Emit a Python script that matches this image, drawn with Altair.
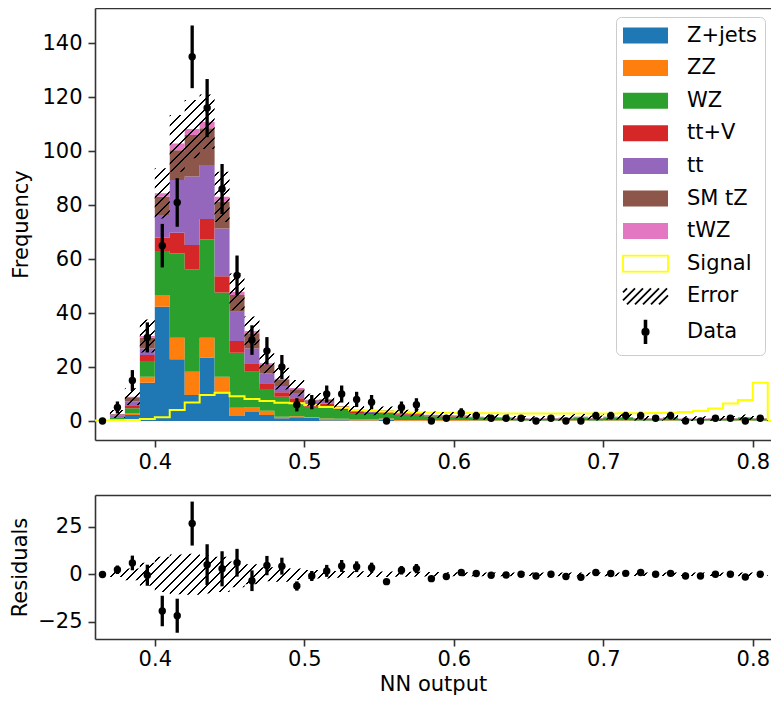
import altair as alt
import numpy as np
import pandas as pd

# ---------------- data ----------------
bin_lo = [round(0.36 + 0.01 * i, 2) for i in range(46)]
bin_width = 0.01

series_names = ["Z+jets", "ZZ", "WZ", "tt+V", "tt", "SM tZ", "tWZ"]
series_colors = ["#1f77b4", "#ff7f0e", "#2ca02c", "#d62728", "#9467bd", "#8c564b", "#e377c2"]

zjets = [0.05, 0.4, 2.2, 14.2, 42.4, 22.9, 9.6, 23.5, 10.3, 1.9, 3.3, 2.2, 1.0,
         1.4, 1.2, 0.3, 0.3, 0.2, 0.2, 0.6, 0.1, 0.1, 0.1, 0.1, 0.1, 0.05, 0.1, 0.05, 0.05, 0.05,
         0.05, 0.1, 0.1, 0.05, 0.1, 0.1, 0.05, 0.05, 0.1, 0.05, 0.05, 0.05, 0.05, 0.05, 0.05, 0.0]
zz = [0.0, 0.1, 0.6, 2.2, 4.3, 8.0, 8.7, 7.4, 6.1, 3.0, 1.9, 1.6, 0.6,
      0.4, 0.3, 0.6, 0.5, 0.5, 0.4, 0.3, 0.3, 0.3, 0.3, 0.25, 0.25, 0.2, 0.2, 0.2, 0.12, 0.1,
      0.12, 0.15, 0.2, 0.15, 0.2, 0.2, 0.15, 0.12, 0.2, 0.1, 0.1, 0.12, 0.12, 0.2, 0.12, 0.0]
wz = [0.05, 0.8, 1.9, 5.8, 16.3, 31.2, 38.0, 36.4, 31.2, 20.4, 13.1, 8.1, 7.4,
      5.0, 3.8, 4.6, 3.3, 2.3, 2.0, 2.2, 1.8, 1.9, 1.4, 1.35, 1.3, 1.0, 0.9, 0.85, 0.6, 0.55,
      0.6, 0.7, 1.0, 0.65, 1.0, 0.9, 0.65, 0.6, 0.9, 0.55, 0.55, 0.6, 0.6, 0.85, 0.6, 0.0]
ttv = [0.0, 0.2, 0.9, 2.3, 5.0, 7.7, 8.9, 7.6, 6.1, 4.4, 3.1, 2.1, 1.7,
       1.6, 0.9, 1.0, 0.6, 0.4, 0.4, 0.3, 0.3, 0.3, 0.2, 0.2, 0.2, 0.15, 0.12, 0.12, 0.1, 0.08,
       0.1, 0.1, 0.12, 0.1, 0.12, 0.12, 0.1, 0.1, 0.12, 0.08, 0.08, 0.1, 0.1, 0.12, 0.1, 0.0]
tt = [0.0, 0.5, 1.6, 2.4, 8.4, 19.5, 25.4, 20.0, 17.7, 10.8, 5.5, 3.7, 2.3,
      2.0, 0.9, 0.9, 0.5, 0.3, 0.3, 0.3, 0.2, 0.2, 0.15, 0.15, 0.12, 0.1, 0.1, 0.1, 0.07, 0.06,
      0.07, 0.08, 0.1, 0.08, 0.1, 0.1, 0.08, 0.07, 0.1, 0.06, 0.06, 0.07, 0.07, 0.1, 0.07, 0.0]
smtz = [0.0, 0.5, 1.6, 4.0, 6.7, 11.1, 15.4, 13.6, 9.9, 6.2, 5.6, 3.1, 2.2,
        1.4, 0.6, 0.6, 0.3, 0.2, 0.15, 0.15, 0.15, 0.15, 0.1, 0.1, 0.1, 0.07, 0.05, 0.05, 0.04, 0.04,
        0.04, 0.05, 0.05, 0.05, 0.05, 0.05, 0.05, 0.04, 0.05, 0.04, 0.04, 0.04, 0.04, 0.05, 0.04, 0.0]
twz = [0.0, 0.1, 0.2, 0.6, 1.3, 2.5, 2.2, 2.4, 1.8, 1.2, 0.9, 0.6, 0.5,
       0.4, 0.2, 0.2, 0.1, 0.1, 0.05, 0.05, 0.05, 0.05, 0.05, 0.05, 0.03, 0.03, 0.03, 0.03, 0.02, 0.02,
       0.02, 0.02, 0.03, 0.02, 0.03, 0.03, 0.02, 0.02, 0.03, 0.02, 0.02, 0.02, 0.02, 0.03, 0.02, 0.0]

signal = [0.2, 0.3, 0.4, 0.7, 1.4, 4.1, 6.9, 9.6, 10.5, 9.2, 8.2, 7.4, 6.8,
          6.6, 5.9, 5.2, 4.9, 4.1, 3.9, 3.5, 3.4, 3.2, 3.1, 3.1, 3.0, 2.9, 2.9, 2.8, 2.8, 2.8,
          2.8, 2.8, 2.8, 2.8, 2.8, 2.9, 2.9, 3.0, 3.1, 3.3, 3.7, 4.6, 6.5, 7.8, 14.2, 0.0]

data_counts = [0, 5, 15, 31, 65, 81, 135, 116, 86, 54, 30, 26, 20,
               6, 7, 10, 10, 8, 7, 0, 5, 6, 0, 1, 3, 2, 1, 1, 1, 0,
               1, 0, 0, 2, 2, 2, 2, 1, 2, 0, 0, 1, 1, 0, 1, 0]

mc_err = [0.3, 1.5, 3.1, 6.1, 9.3, 10.5, 10.8, 10.1, 9.3, 6.8, 5.3, 3.7, 4.0,
          3.0, 2.2, 2.2, 1.8, 1.6, 1.4, 1.5, 1.3, 1.3, 1.2, 1.1, 1.1, 1.0, 1.0, 1.0, 0.9, 0.9,
          0.9, 1.0, 1.0, 0.9, 1.0, 1.0, 0.9, 0.9, 1.0, 0.9, 0.9, 0.9, 0.9, 1.0, 0.9, 0.0]

x_ticks = [0.4, 0.5, 0.6, 0.7, 0.8]
y_ticks_top = [0, 20, 40, 60, 80, 100, 120, 140]
y_ticks_res = [-25, 0, 25]

legend_entries = series_names + ["Signal", "Error", "Data"]

# ---------------- layout constants ----------------
FONT = "DejaVu Sans"
FS = 21
W = 676
X_DOM = [0.36, 0.36 + W / 1495.0]
H = 631                      # whole plotting group (both panels)
TOP_DOM = [-7.04, 153.1]
TOP_RANGE = [432, 0]         # pixel rows of the upper panel
RES_DOM = [-34.2, 41.9]
RES_RANGE = [631, 487]       # pixel rows of the residual panel
AX_COLOR = "#333333"

NB = len(bin_lo)

# ---------------- tables ----------------
comps = [zjets, zz, wz, ttv, tt, smtz, twz]
rows = []
cum = np.zeros(NB)
for name, vals in zip(series_names, comps):
    v = np.array(vals, dtype=float)
    for i in range(NB):
        rows.append(dict(series=name, x=bin_lo[i], y0=cum[i], y1=cum[i] + v[i]))
    rows.append(dict(series=name, x=round(bin_lo[-1] + bin_width, 2), y0=cum[-1], y1=cum[-1] + v[-1]))
    cum = cum + v
stack_df = pd.DataFrame(rows)
total = cum

sig_df = pd.DataFrame({"x": bin_lo + [round(bin_lo[-1] + bin_width, 2)],
                       "s": signal + [signal[-1]]})

err = np.array(mc_err)
NH = NB - 1  # hatched bins (last bin empty)
hx = bin_lo[:NH] + [round(bin_lo[NH - 1] + bin_width, 2)]
hup = list(total[:NH] + err[:NH]) + [total[NH - 1] + err[NH - 1]]
hlo = list(total[:NH] - err[:NH]) + [total[NH - 1] - err[NH - 1]]
hatch_df = pd.DataFrame({"x": hx, "up": hup, "lo": hlo})
rup = list(err[:NH]) + [err[NH - 1]]
res_hatch_df = pd.DataFrame({"x": hx, "up": rup, "lo": [-e for e in rup]})

cnt = np.array(data_counts, dtype=float)
centers = [round(b + bin_width / 2, 3) for b in bin_lo]
data_df = pd.DataFrame({"xc": centers, "n": cnt,
                        "lo": cnt - np.sqrt(cnt), "hi": cnt + np.sqrt(cnt)})
resid = cnt - total
res_df = pd.DataFrame({"xc": centers, "r": resid,
                       "lo": resid - np.sqrt(cnt), "hi": resid + np.sqrt(cnt)})


# ---------------- hatch gradient (style only) ----------------
def x_px(v):
    return (v - X_DOM[0]) / (X_DOM[1] - X_DOM[0]) * W


def y_px(v, dom, rng):
    return rng[0] + (v - dom[0]) / (dom[1] - dom[0]) * (rng[1] - rng[0])


def hatch_gradient(bw, bh, spacing=9.5, lw=1.5, s=1.25):
    D = s * (bw * bw + bh * bh) / bw
    stops = []
    k = 0
    while True:
        a = k * spacing / D
        b = (k * spacing + lw * np.sqrt(2)) / D
        if a >= 1:
            break
        b = min(b, 1.0)
        stops += [alt.GradientStop(offset=a, color="rgba(0,0,0,0)"),
                  alt.GradientStop(offset=a, color="black"),
                  alt.GradientStop(offset=b, color="black"),
                  alt.GradientStop(offset=b, color="rgba(0,0,0,0)")]
        k += 1
    return alt.LinearGradient(gradient="linear", stops=stops, x1=0, y1=0, x2=s, y2=s * bh / bw)


bw_px = x_px(hx[-1]) - x_px(hx[0])
top_bh = y_px(min(hlo), TOP_DOM, TOP_RANGE) - y_px(max(hup), TOP_DOM, TOP_RANGE)
res_bh = y_px(-max(rup), RES_DOM, RES_RANGE) - y_px(max(rup), RES_DOM, RES_RANGE)
top_grad = hatch_gradient(bw_px, top_bh)
res_grad = hatch_gradient(bw_px, res_bh)


# ---------------- legend symbols ----------------
SYM_SCALE = 8.0  # px per unit for symbolSize 256
SW, SH = 45.0, 16.0


def u(px, py):
    return f"{(px - SW / 2) / SYM_SCALE:.3f},{(py - SH / 2) / SYM_SCALE:.3f}"


rect_path = f"M{u(0, 0)}L{u(SW, 0)}L{u(SW, SH)}L{u(0, SH)}Z"
segs = []
kk = 4.0
while kk < SW + SH:
    py_a = min(SH, kk)
    py_b = max(0.0, kk - SW)
    if py_a - py_b > 1.0:
        segs.append(f"M{u(kk - py_a, py_a)}L{u(kk - py_b, py_b)}")
    kk += 8.0
hatch_path = "".join(segs)
data_path = ("M-0.11,-1.4L0.11,-1.4L0.11,1.4L-0.11,1.4Z"
             "M-0.4,0A0.4,0.4,0,1,1,0.4,0A0.4,0.4,0,1,1,-0.4,0Z")

fill_scale = alt.Scale(domain=legend_entries,
                       range=series_colors + ["transparent", "transparent", "black"])
stroke_scale = alt.Scale(domain=legend_entries,
                         range=["transparent"] * 7 + ["#ffff00", "black", "black"])
shape_scale = alt.Scale(domain=legend_entries, range=[rect_path] * 8 + [hatch_path, data_path])

leg = alt.Legend(title=None, orient="none", legendX=521, legendY=9,
                 labelFont=FONT, labelFontSize=FS, labelColor="black",
                 symbolSize=256, symbolOffset=11, labelOffset=31, rowPadding=7.6,
                 columnPadding=0, padding=8, fillColor="rgba(255,255,255,0.8)",
                 strokeColor="#cccccc", cornerRadius=5, symbolFillColor="black",
                 symbolStrokeColor="black", symbolOpacity=1, symbolStrokeWidth=1.8)

xs = alt.Scale(domain=X_DOM, nice=False, zero=False)
ys_top = alt.Scale(domain=TOP_DOM, range=TOP_RANGE, nice=False, zero=False)
ys_res = alt.Scale(domain=RES_DOM, range=RES_RANGE, nice=False, zero=False)

# axes
top_x_axis = alt.Axis(orient="bottom", offset=TOP_RANGE[0] - H, values=x_ticks, format=".1f",
                      title=None, labelFlush=False, labelPadding=4)
top_spine = alt.Axis(orient="top", offset=0, labels=False, ticks=False, title=None, domain=True)
bot_x_axis = alt.Axis(orient="bottom", offset=0, values=x_ticks, format=".1f", title="NN output",
                      labelFlush=False, labelPadding=2, titleBaseline="alphabetic", titleY=51)
res_spine = alt.Axis(orient="top", offset=-RES_RANGE[1], labels=False, ticks=False, title=None,
                     domain=True)
y_top_axis = alt.Axis(orient="left", values=y_ticks_top, title="Frequency", titlePadding=10.5,
                      labelPadding=6)
y_res_axis = alt.Axis(orient="left", values=y_ticks_res, title="Residuals", titlePadding=7,
                      labelPadding=6)

# ---------------- upper panel ----------------
bars = alt.Chart(stack_df).mark_area(interpolate="step-after", clip=True).encode(
    x=alt.X("x:Q", scale=xs, axis=top_x_axis),
    y=alt.Y("y1:Q", scale=ys_top, stack=None, axis=y_top_axis),
    y2="y0:Q",
    fill=alt.Fill("series:N", scale=fill_scale, legend=leg),
)

sig_line = alt.Chart(sig_df).mark_line(interpolate="step-after", color="#ffff00",
                                       strokeWidth=2, clip=True).encode(
    x=alt.X("x:Q", scale=xs, axis=top_spine),
    y=alt.Y("s:Q", scale=ys_top, axis=None),
)

hatch = alt.Chart(hatch_df).mark_area(interpolate="step-after", fill=top_grad, clip=True).encode(
    x=alt.X("x:Q", scale=xs, axis=None),
    y=alt.Y("up:Q", scale=ys_top, axis=None),
    y2="lo:Q",
)

data_bars = alt.Chart(data_df).mark_rule(color="black", strokeWidth=3.3).encode(
    x=alt.X("xc:Q", scale=xs, axis=None),
    y=alt.Y("lo:Q", scale=ys_top, axis=None),
    y2="hi:Q",
)
data_pts = alt.Chart(data_df).mark_circle(color="black", size=55, opacity=1).encode(
    x=alt.X("xc:Q", scale=xs, axis=None),
    y=alt.Y("n:Q", scale=ys_top, axis=None),
)

legend_layer = alt.Chart(pd.DataFrame({"series": legend_entries})).mark_point(
    filled=True, opacity=1).encode(
    fill=alt.Fill("series:N", scale=fill_scale, legend=leg),
    stroke=alt.Stroke("series:N", scale=stroke_scale, legend=leg),
    shape=alt.Shape("series:N", scale=shape_scale, legend=leg),
).transform_filter("false")

# ---------------- residual panel ----------------
res_hatch = alt.Chart(res_hatch_df).mark_area(interpolate="step-after", fill=res_grad, clip=True).encode(
    x=alt.X("x:Q", scale=xs, axis=bot_x_axis),
    y=alt.Y("up:Q", scale=ys_res, axis=y_res_axis),
    y2="lo:Q",
)
res_bars = alt.Chart(res_df).mark_rule(color="black", strokeWidth=3.3).encode(
    x=alt.X("xc:Q", scale=xs, axis=res_spine),
    y=alt.Y("lo:Q", scale=ys_res, axis=None),
    y2="hi:Q",
)
res_pts = alt.Chart(res_df).mark_circle(color="black", size=55, opacity=1).encode(
    x=alt.X("xc:Q", scale=xs, axis=None),
    y=alt.Y("r:Q", scale=ys_res, axis=None),
)

chart = alt.layer(
    bars, sig_line, hatch, data_bars, data_pts, legend_layer, res_hatch, res_bars, res_pts
).resolve_scale(y="independent").resolve_axis(x="independent", y="independent").properties(
    width=W, height=H,
    autosize=alt.AutoSizeParams(type="none"),
    padding={"left": 87, "top": 0, "right": 0, "bottom": 56},
).configure_view(stroke=None).configure_axis(
    labelFont=FONT, titleFont=FONT, labelFontSize=FS, titleFontSize=FS,
    titleFontWeight="normal", labelColor="black", titleColor="black",
    domainColor=AX_COLOR, tickColor=AX_COLOR, domainWidth=1.6, tickWidth=1.6,
    tickSize=7, grid=False)

chart.save("out.html", embed_options={"renderer": "svg", "actions": False})
